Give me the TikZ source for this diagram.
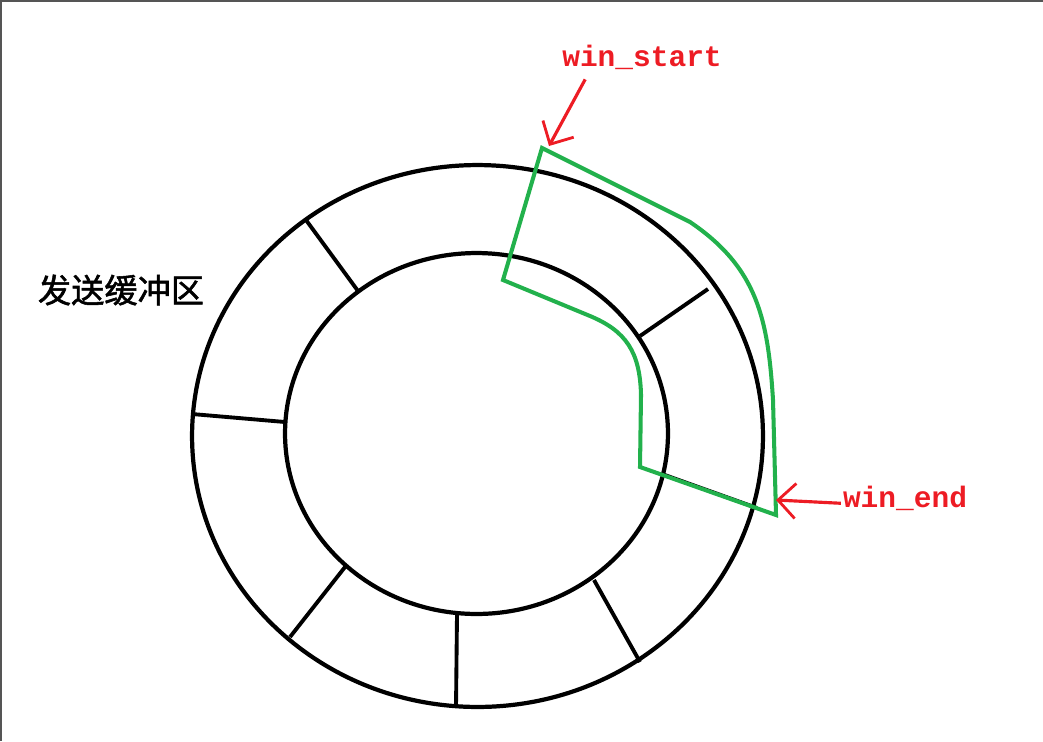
\documentclass[tikz,border=0pt]{standalone}
\usepackage{fontspec}
\setmonofont{Liberation Mono}
\newfontfamily\cjk[FakeBold=1.6]{Noto Sans CJK SC}
\usetikzlibrary{arrows.meta}
\definecolor{paintgreen}{HTML}{22B14C}
\definecolor{paintred}{HTML}{ED1C24}
\definecolor{framegrey}{HTML}{555555}
\tikzstyle{ring} = [draw=black, line width=2.4pt]
\tikzstyle{divider} = [draw=black, line width=2.2pt]
\tikzstyle{window} = [draw=paintgreen, line width=2.3pt, line join=miter]
\tikzstyle{pointer} = [draw=paintred, line width=1.8pt, -{Straight Barb[length=3.5mm, width=7mm, line width=1.6pt]}]
\tikzstyle{tag} = [text=paintred, font=\ttfamily\bfseries\fontsize{16.8}{20}\selectfont, inner sep=1pt]
\tikzstyle{title} = [text=black, font=\cjk\fontsize{18.9}{22}\selectfont, inner sep=1pt]

\begin{document}
\begin{tikzpicture}[x=0.02cm, y=-0.02cm]

\useasboundingbox (0,0) rectangle (1043,741);
\draw[framegrey, line width=1.2pt] (1,741) -- (1,1) -- (1043,1);

\coordinate (centre) at (477,435);
\draw[ring] (477.5,436) ellipse [x radius=5.71cm, y radius=5.42cm];
\draw[ring] (476.5,433.5) ellipse [x radius=3.83cm, y radius=3.61cm];

\foreach \ox/\oy/\ix/\iy in {306/220/358/291, 192/414/285/422, 290/637/345/567,
  456/707/457/614, 640/662/594/580, 757/508/662/474, 708/289/640/336}
  \draw[divider] (\ox,\oy) -- (\ix,\iy);

\node (buffer) [title] at (121,290) {发送缓冲区};

\draw[window] (542,148) -- (503,280) -- (590,316)
  .. controls (626,331) and (640,352) .. (641,395) -- (640,467)
  -- (776,515) -- (773,400)
  .. controls (768,320) and (758,268) .. (690,222) -- cycle;

\node (winstart) [tag] at (642,57) {win\_start};
\node (winend) [tag] at (905,498) {win\_end};

\coordinate (startTip) at (549,146);
\coordinate (endTip) at (776,500);
\draw[pointer] ([shift={(25,8)}]winstart.south west) -- (startTip);
\draw[pointer] ([yshift=-3pt]winend.west) -- (endTip);

\end{tikzpicture}
\end{document}
